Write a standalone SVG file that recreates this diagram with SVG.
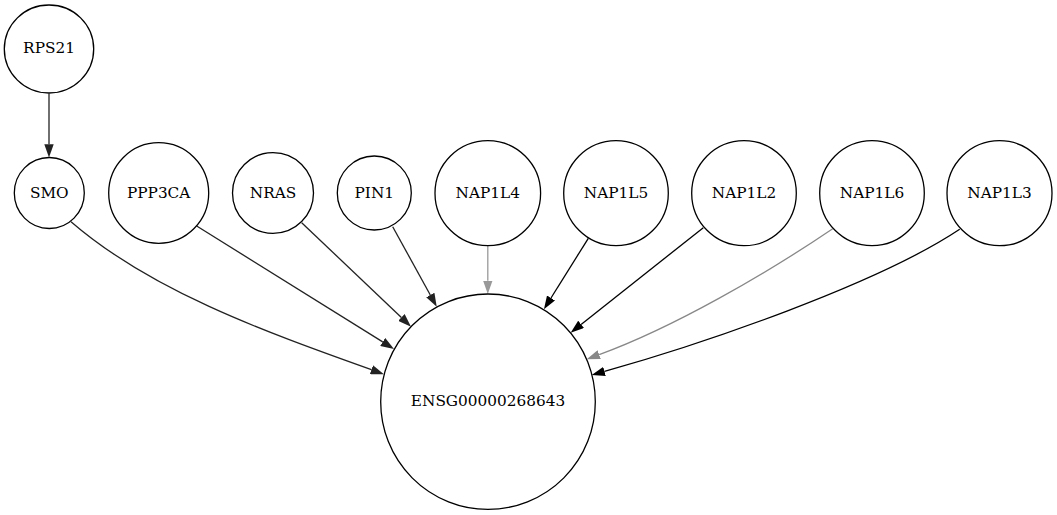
<svg xmlns="http://www.w3.org/2000/svg" width="1057" height="515" viewBox="0 0 1057 515">
<style>
.node ellipse{fill:#fff;stroke:#000;stroke-width:1.3}
.node text{font-family:"DejaVu Serif","Liberation Serif",serif;font-size:15.3px;text-anchor:middle;fill:#000}
.e{fill:none;stroke-width:1.3}
.dk{stroke:#222}
.bk{stroke:#000}
.g1{stroke:#999}
.g2{stroke:#888}
</style>
<defs>
<marker id="adk" markerUnits="userSpaceOnUse" viewBox="0 0 13.3 9.4" refX="0" refY="4.7" markerWidth="13.3" markerHeight="9.4" orient="auto"><path d="M0,0 L13.3,4.7 L0,9.4 z" fill="#222"/></marker>
<marker id="abk" markerUnits="userSpaceOnUse" viewBox="0 0 13.3 9.4" refX="0" refY="4.7" markerWidth="13.3" markerHeight="9.4" orient="auto"><path d="M0,0 L13.3,4.7 L0,9.4 z" fill="#000"/></marker>
<marker id="ag1" markerUnits="userSpaceOnUse" viewBox="0 0 13.3 9.4" refX="0" refY="4.7" markerWidth="13.3" markerHeight="9.4" orient="auto"><path d="M0,0 L13.3,4.7 L0,9.4 z" fill="#999"/></marker>
<marker id="ag2" markerUnits="userSpaceOnUse" viewBox="0 0 13.3 9.4" refX="0" refY="4.7" markerWidth="13.3" markerHeight="9.4" orient="auto"><path d="M0,0 L13.3,4.7 L0,9.4 z" fill="#888"/></marker>
</defs>
<rect width="1057" height="515" fill="#fff"/>
<g id="edges">
<path class="e dk" marker-end="url(#adk)" d="M49,93.5 L49,144.2"/>
<path class="e dk" marker-end="url(#adk)" d="M71,221.7 C150,290 260,330 371.4,369.7"/>
<path class="e dk" marker-end="url(#adk)" d="M196.7,226 L382.7,341.9"/>
<path class="e dk" marker-end="url(#adk)" d="M301.7,222.7 L401.4,317.5"/>
<path class="e dk" marker-end="url(#adk)" d="M392.7,226.7 L430.3,295"/>
<path class="e g1" marker-end="url(#ag1)" d="M487.8,245.7 L487.8,280.7"/>
<path class="e bk" marker-end="url(#abk)" d="M588.3,238.3 L551,298"/>
<path class="e bk" marker-end="url(#abk)" d="M703.3,227.7 L581.1,324.4"/>
<path class="e g2" marker-end="url(#ag2)" d="M832.7,228.7 C766.5,273.6 674.4,327.1 599.2,354.7"/>
<path class="e bk" marker-end="url(#abk)" d="M959.7,229.3 C876.5,284.8 700.5,344.4 604.5,371.4"/>
</g>
<g id="RPS21" class="node"><ellipse cx="49" cy="49" rx="44.7" ry="44"/><text x="49" y="53.3">RPS21</text></g>
<g id="SMO" class="node"><ellipse cx="49.3" cy="193" rx="35" ry="35.5"/><text x="49.3" y="197.5">SMO</text></g>
<g id="PPP3CA" class="node"><ellipse cx="158.7" cy="193" rx="50" ry="50.3"/><text x="158.7" y="197.5">PPP3CA</text></g>
<g id="NRAS" class="node"><ellipse cx="273" cy="193" rx="40.5" ry="40.3"/><text x="273" y="197.5">NRAS</text></g>
<g id="PIN1" class="node"><ellipse cx="374.3" cy="193" rx="37" ry="37"/><text x="374.3" y="197.5">PIN1</text></g>
<g id="NAP1L4" class="node"><ellipse cx="487.8" cy="193.2" rx="52.8" ry="52.5"/><text x="487.8" y="197.7">NAP1L4</text></g>
<g id="NAP1L5" class="node"><ellipse cx="616" cy="193.2" rx="52.3" ry="52.5"/><text x="616" y="197.7">NAP1L5</text></g>
<g id="NAP1L2" class="node"><ellipse cx="744" cy="193.2" rx="52.3" ry="52.5"/><text x="744" y="197.7">NAP1L2</text></g>
<g id="NAP1L6" class="node"><ellipse cx="872" cy="193.2" rx="52.3" ry="52.5"/><text x="872" y="197.7">NAP1L6</text></g>
<g id="NAP1L3" class="node"><ellipse cx="999.5" cy="193.2" rx="52.5" ry="52.5"/><text x="999.5" y="197.7">NAP1L3</text></g>
<g id="ENSG00000268643" class="node"><ellipse cx="488" cy="401.7" rx="107.3" ry="107.7"/><text x="488" y="405.5">ENSG00000268643</text></g>
</svg>
